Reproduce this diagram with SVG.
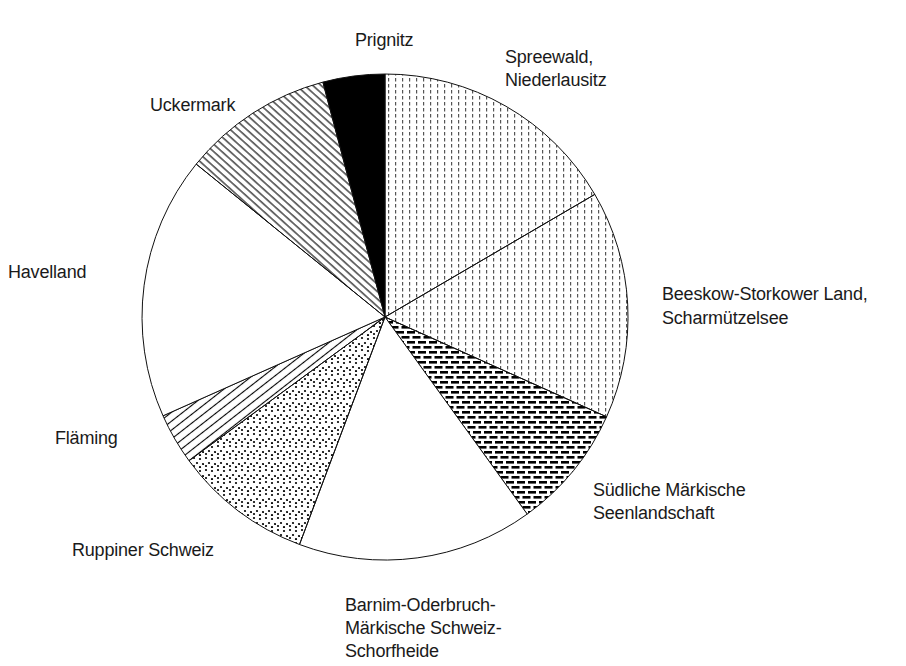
<svg xmlns="http://www.w3.org/2000/svg" width="906" height="666" viewBox="0 0 906 666">
<style>
.lbl{font-family:"Liberation Sans",Arial,sans-serif;font-size:18px;fill:#1a1a1a;letter-spacing:-0.2px}
.sl{stroke:#111;stroke-width:1;stroke-linejoin:round}
</style>
<defs>
<pattern id="vdash" width="7" height="6" patternUnits="userSpaceOnUse">
<rect x="3" y="0" width="1.2" height="3.5" fill="#555"/>
</pattern>
<pattern id="bricks" width="11" height="10" patternUnits="userSpaceOnUse">
<rect x="0" y="1" width="8" height="2.6" fill="#000"/>
<rect x="5.5" y="6" width="8" height="2.6" fill="#000"/>
<rect x="-5.5" y="6" width="8" height="2.6" fill="#000"/>
</pattern>
<pattern id="dots" width="12" height="12" patternUnits="userSpaceOnUse">
<circle cx="2" cy="2" r="1.1" fill="#000"/>
<circle cx="8" cy="3" r="1.1" fill="#000"/>
<circle cx="5" cy="7" r="1.1" fill="#000"/>
<circle cx="11" cy="8" r="1.1" fill="#000"/>
<circle cx="2" cy="10" r="1.1" fill="#000"/>
<circle cx="8" cy="11" r="1.1" fill="#000"/>
</pattern>
<pattern id="hatchF" width="7" height="7" patternUnits="userSpaceOnUse" patternTransform="rotate(-38)">
<line x1="0" y1="3.5" x2="7" y2="3.5" stroke="#000" stroke-width="1.1"/>
</pattern>
<pattern id="hatchU" width="5.5" height="5.5" patternUnits="userSpaceOnUse" patternTransform="rotate(42)">
<line x1="0" y1="2.7" x2="5.5" y2="2.7" stroke="#000" stroke-width="1.1"/>
</pattern>
</defs>
<rect width="906" height="666" fill="#fff"/>
<g id="slices">
<g id="spreewald"><path class="sl" fill="url(#vdash)" d="M385,317 L385,74 A243,243 0 0 1 594.8,194.4 Z"/></g>
<g id="beeskow"><path class="sl" fill="url(#vdash)" d="M385,317 L594.8,194.4 A243,243 0 0 1 606.6,416.8 Z"/></g>
<g id="suedliche"><path class="sl" fill="url(#bricks)" d="M385,317 L606.6,416.8 A243,243 0 0 1 527.2,514.1 Z"/></g>
<g id="barnim"><path class="sl" fill="#fff" d="M385,317 L527.2,514.1 A243,243 0 0 1 299.5,544.5 Z"/></g>
<g id="ruppiner"><path class="sl" fill="url(#dots)" d="M385,317 L299.5,544.5 A243,243 0 0 1 189,460.7 Z"/></g>
<g id="flaeming"><path class="sl" fill="url(#hatchF)" d="M385,317 L189,460.7 A243,243 0 0 1 163,415.8 Z"/></g>
<g id="havelland"><path class="sl" fill="#fff" d="M385,317 L163,415.8 A243,243 0 0 1 196.2,164.1 Z"/></g>
<g id="uckermark"><path class="sl" fill="url(#hatchU)" d="M385,317 L196.2,164.1 A243,243 0 0 1 322.9,82.1 Z"/></g>
<g id="prignitz"><path class="sl" fill="#000" d="M385,317 L322.9,82.1 A243,243 0 0 1 385,74 Z"/></g>
</g>
<g id="labels">
<text class="lbl" x="355" y="46">Prignitz</text>
<text class="lbl" x="505" y="63">Spreewald,</text>
<text class="lbl" x="505" y="86">Niederlausitz</text>
<text class="lbl" x="150" y="111">Uckermark</text>
<text class="lbl" x="8" y="278">Havelland</text>
<text class="lbl" x="662" y="300">Beeskow-Storkower Land,</text>
<text class="lbl" x="662" y="324">Scharmützelsee</text>
<text class="lbl" x="55" y="444">Fläming</text>
<text class="lbl" x="593" y="496">Südliche Märkische</text>
<text class="lbl" x="593" y="519">Seenlandschaft</text>
<text class="lbl" x="72" y="556">Ruppiner Schweiz</text>
<text class="lbl" x="345" y="611">Barnim-Oderbruch-</text>
<text class="lbl" x="345" y="634">Märkische Schweiz-</text>
<text class="lbl" x="345" y="657">Schorfheide</text>
</g>
</svg>
